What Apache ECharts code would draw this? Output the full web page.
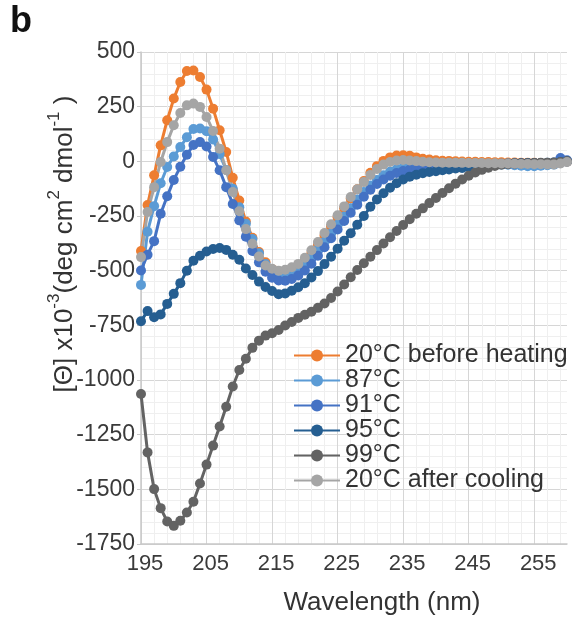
<!DOCTYPE html>
<html>
<head>
<meta charset="utf-8">
<script src="https://cdn.jsdelivr.net/npm/echarts@6/dist/echarts.min.js"></script>
<style>
html,body{margin:0;padding:0;background:#fff;}
#chart{width:573px;height:624px;}
</style>
</head>
<body>
<div id="chart"></div>
<script>
// Wavelength categories (nm)
const wavelengths = [195,196,197,198,199,200,201,202,203,204,205,206,207,208,209,210,211,212,213,214,215,216,217,218,219,220,221,222,223,224,225,226,227,228,229,230,231,232,233,234,235,236,237,238,239,240,241,242,243,244,245,246,247,248,249,250,251,252,253,254,255,256,257,258,259,260];
const xTickLabels = ['195','205','215','225','235','245','255'];
const yMin = -1750, yMax = 500, yStep = 250;

const seriesNames = ['20°C before heating','87°C','91°C','95°C','99°C','20°C after cooling'];

const before20 = [-410,-200,-64,73,188,287,363,413,415,386,
  328,241,142,43,-75,-179,-275,-350,-415,-462,
  -493,-508,-508,-498,-482,-455,-420,-382,-340,-298,
  -256,-214,-170,-128,-90,-52,-22,2,18,27,
  28,25,18,12,8,5,3,2,0,-1,
  -2,-2,-3,-3,-4,-4,-5,-5,-6,-6,
  -7,-8,-8,-8,-5,-2];
const t87 = [-565,-322,-205,-100,-26,22,65,110,148,150,
  138,100,33,-40,-125,-210,-285,-355,-420,-470,
  -500,-515,-520,-512,-495,-470,-440,-405,-368,-330,
  -290,-252,-215,-175,-140,-110,-85,-64,-48,-36,
  -28,-23,-20,-18,-16,-15,-14,-14,-13,-13,
  -12,-12,-12,-13,-14,-15,-16,-18,-20,-22,
  -22,-20,-18,-15,-8,-2];
const t91 = [-499,-427,-365,-240,-160,-85,-25,30,75,88,
  68,20,-41,-118,-195,-270,-345,-410,-462,-505,
  -532,-545,-546,-538,-522,-499,-468,-432,-393,-352,
  -312,-273,-235,-198,-162,-130,-104,-83,-66,-53,
  -44,-38,-33,-29,-26,-24,-22,-20,-18,-17,
  -16,-15,-14,-13,-12,-12,-11,-11,-10,-10,
  -10,-10,-8,-5,15,5];
const t95 = [-731,-685,-713,-700,-652,-606,-557,-500,-455,-432,
  -412,-401,-396,-405,-427,-450,-490,-520,-550,-575,
  -593,-608,-604,-592,-576,-557,-531,-502,-470,-436,
  -400,-363,-329,-290,-250,-208,-174,-146,-121,-100,
  -83,-70,-61,-54,-49,-45,-41,-37,-33,-30,
  -27,-23,-19,-16,-13,-11,-10,-9,-9,-8,
  -8,-8,-7,-6,-3,0];
const t99 = [-1064,-1331,-1499,-1586,-1647,-1667,-1644,-1606,-1557,-1473,
  -1387,-1300,-1213,-1122,-1030,-954,-903,-853,-820,-797,
  -786,-771,-751,-735,-716,-702,-688,-670,-650,-625,
  -595,-563,-530,-497,-466,-436,-406,-376,-347,-319,
  -291,-265,-240,-215,-191,-168,-145,-123,-102,-83,
  -66,-51,-39,-29,-21,-16,-13,-11,-10,-9,
  -8,-7,-6,-5,-3,0];
const after20 = [-438,-232,-118,-3,88,165,221,256,264,249,
  203,139,58,-41,-140,-228,-310,-377,-435,-476,
  -491,-500,-496,-484,-469,-441,-407,-369,-328,-288,
  -247,-206,-163,-128,-95,-62,-35,-15,-3,4,
  6,4,1,-2,-4,-5,-6,-6,-7,-7,
  -8,-8,-8,-9,-9,-10,-10,-11,-12,-12,
  -13,-13,-14,-14,-10,-3];

const seriesData = [before20, t87, t91, t95, t99, after20];
const colors = ['#ED7D31','#5B9BD5','#4472C4','#255E91','#636363','#A5A5A5'];

const FONT = '"Liberation Sans", Arial, sans-serif';
const chart = echarts.init(document.getElementById('chart'), null, {renderer:'canvas'});

const option = {
  animation: false,
  backgroundColor: '#fff',
  grid: {left: 141, top: 52, right: 6, bottom: 80, containLabel: false},
  xAxis: [
    { // minor vertical grid lines
      type: 'category', data: wavelengths, boundaryGap: false, position: 'top',
      axisLine: {show: false}, axisTick: {show: false}, axisLabel: {show: false},
      splitLine: {show: true, interval: (i) => i % 2 === 0, lineStyle: {color: '#efefef', width: 1}}
    },
    { // major axis with labels
      type: 'category', data: wavelengths, boundaryGap: false, position: 'bottom',
      axisLine: {show: true, lineStyle: {color: '#c8c8c8', width: 1.5}},
      axisTick: {show: false},
      axisLabel: {
        interval: (i, v) => xTickLabels.indexOf(String(v)) >= 0,
        color: '#3a3a3a', fontSize: 22, fontFamily: FONT, margin: 9, padding: [0,0,0,8]
      },
      splitLine: {show: true, interval: (i, v) => xTickLabels.indexOf(String(v)) >= 0, lineStyle: {color: '#d6d6d6', width: 1}}
    }
  ],
  yAxis: {
    type: 'value', min: yMin, max: yMax, interval: yStep,
    axisLine: {show: true, lineStyle: {color: '#c8c8c8', width: 1.5}},
    axisTick: {show: true, length: 4, lineStyle: {color: '#c8c8c8'}},
    axisLabel: {color: '#3a3a3a', fontSize: 23, fontFamily: FONT, margin: 6, formatter: (v) => String(v)},
    splitLine: {show: true, lineStyle: {color: '#d6d6d6', width: 1}},
    minorTick: {show: false, splitNumber: 5},
    minorSplitLine: {show: true, lineStyle: {color: '#efefef', width: 1}}
  },
  legend: {
    orient: 'vertical', left: 293, top: 343, padding: 0, itemGap: 0,
    itemWidth: 46, itemHeight: 15,
    data: seriesNames,
    textStyle: {fontSize: 25, fontFamily: FONT, color: '#333', lineHeight: 24}
  },
  series: seriesNames.map((n, k) => ({
    name: n, type: 'line', xAxisIndex: 1,
    data: seriesData[k],
    symbol: 'circle', symbolSize: 10, showSymbol: true, showAllSymbol: true,
    lineStyle: {width: 3, color: colors[k]},
    itemStyle: {color: colors[k]},
    emphasis: {disabled: true}
  })),
  graphic: [
    {type: 'text', left: 10, top: 4, style: {text: 'b', font: 'bold 36px ' + FONT, fill: '#111'}},
    {type: 'text', x: 382, y: 603, style: {text: 'Wavelength (nm)', font: '26px ' + FONT, fill: '#333', textAlign: 'center', textVerticalAlign: 'middle'}},
    {type: 'text', x: 62, y: 244, rotation: Math.PI / 2,
      style: {
        text: '{a|[Θ] x10}{s|-3}{a|(deg cm}{s|2}{a| dmol}{s|-1}{a| )}',
        textAlign: 'center', textVerticalAlign: 'middle', fill: '#333',
        rich: {
          a: {fontSize: 26, fontFamily: FONT, color: '#333', lineHeight: 32, verticalAlign: 'bottom'},
          s: {fontSize: 17, fontFamily: FONT, color: '#333', lineHeight: 17, verticalAlign: 'top'}
        }
      }
    }
  ]
};
chart.setOption(option);
</script>
</body>
</html>
